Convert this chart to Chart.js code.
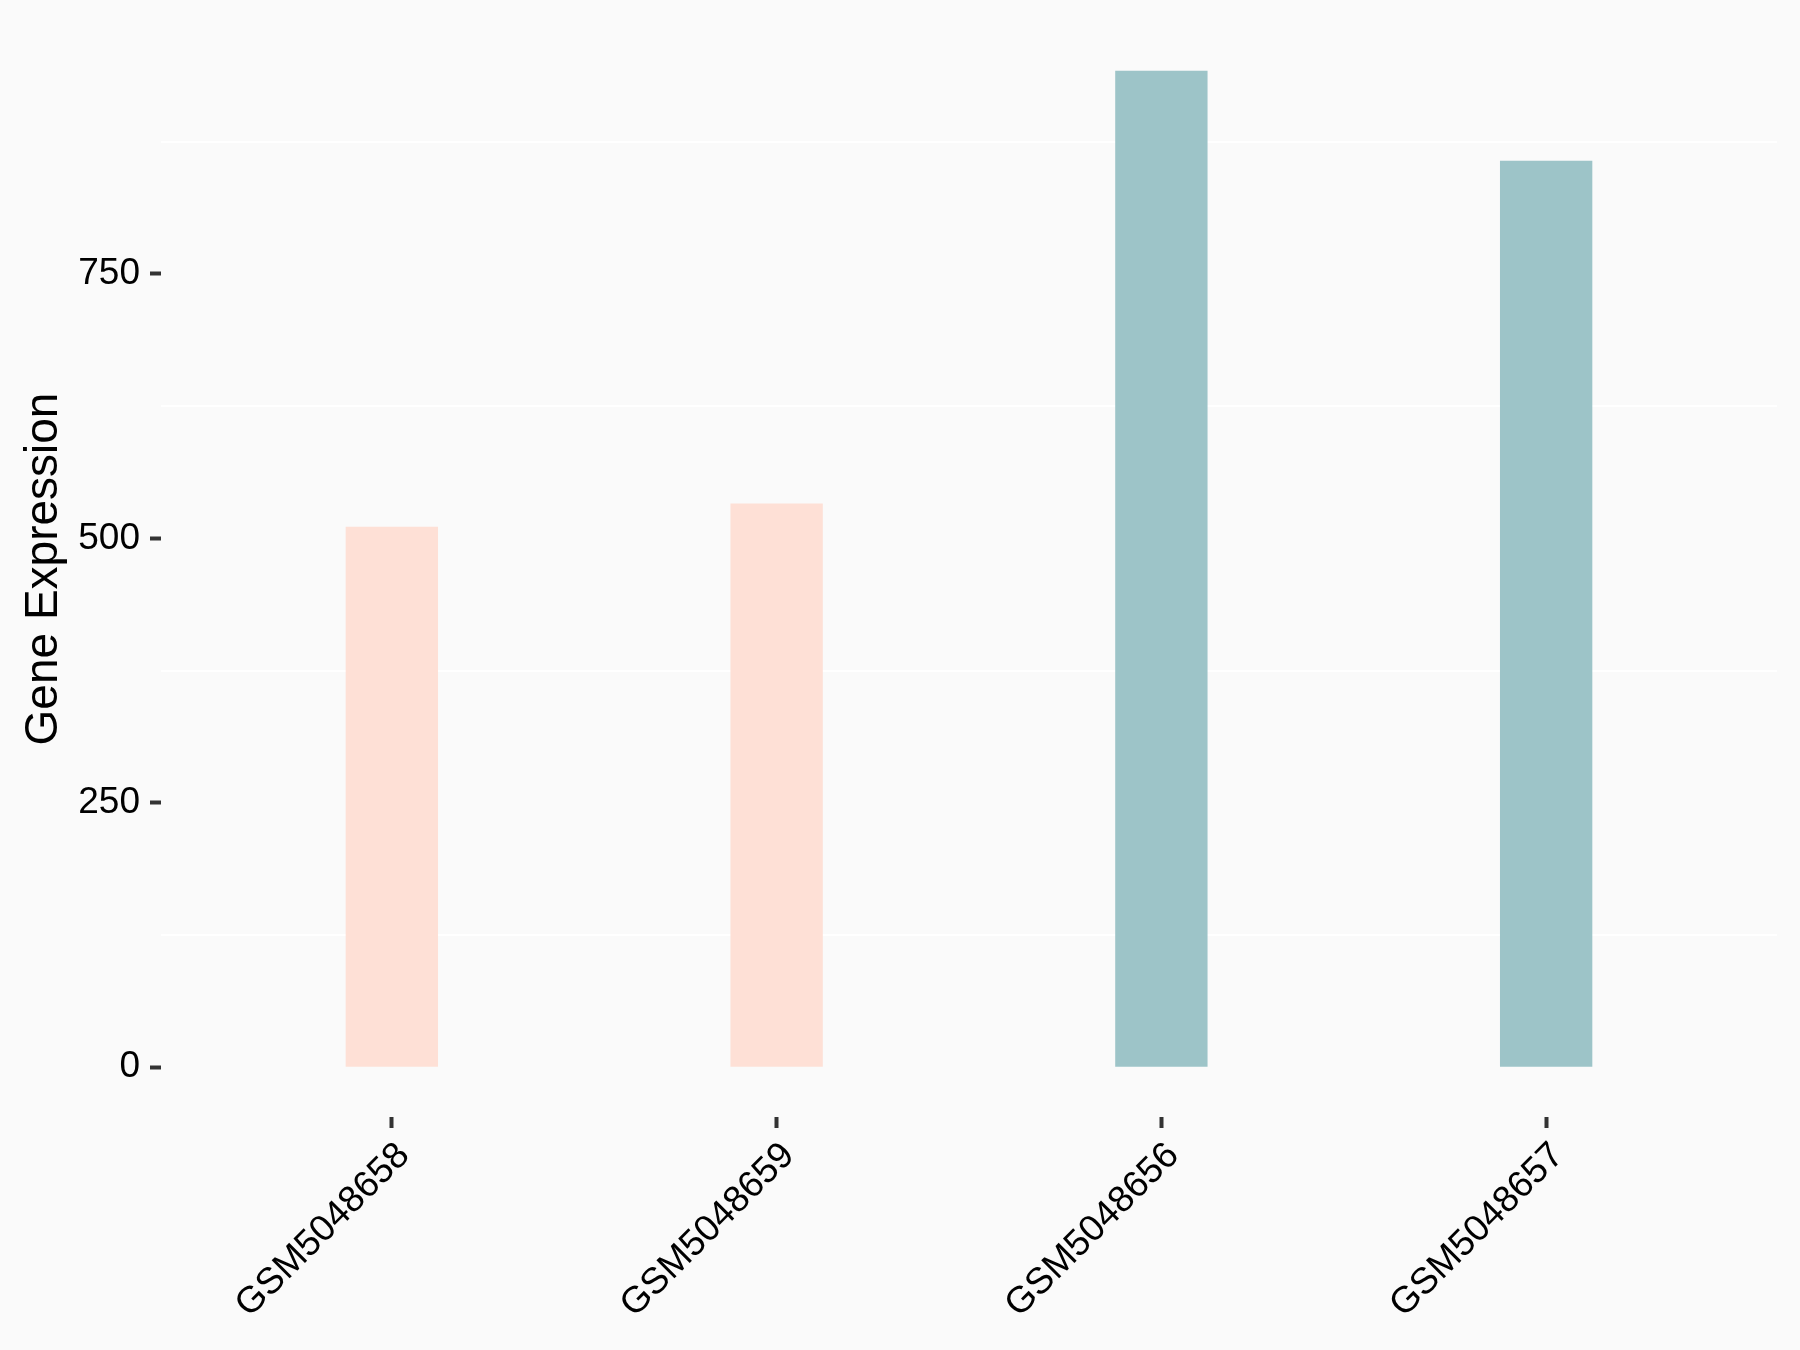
<!DOCTYPE html>
<html>
<head>
<meta charset="utf-8">
<script src="https://cdn.jsdelivr.net/npm/chart.js@4/dist/chart.umd.min.js"></script>
<style>
  html, body { margin: 0; padding: 0; background: #FAFAFA; }
  #wrap { width: 1800px; height: 1350px; }
</style>
</head>
<body>
<div id="wrap"><canvas id="c" width="1800" height="1350"></canvas></div>
<script>
const categories = ["GSM5048658", "GSM5048659", "GSM5048656", "GSM5048657"];
const expression = [511, 533, 942, 857];
const groups = ["B", "B", "A", "A"];
const yTicks = [0, 250, 500, 750];
const yMinorGrid = [125, 375, 625, 875];

const groupColors = { A: "#9DC4C8", B: "#FEE0D6" };
const yMin = -47, yMax = 989;

const FONT = "'Liberation Sans', Arial, sans-serif";

new Chart(document.getElementById('c'), {
  type: 'bar',
  data: {
    datasets: [{
      data: expression.map((v, i) => ({ x: i + 1, y: v })),
      backgroundColor: groups.map(g => groupColors[g]),
      borderWidth: 0,
      categoryPercentage: 1,
      barPercentage: 0.24
    }]
  },
  options: {
    responsive: false,
    animation: false,
    devicePixelRatio: 1,
    layout: { padding: { left: 0, right: 23, top: 21, bottom: 0 } },
    plugins: { legend: { display: false }, tooltip: { enabled: false } },
    scales: {
      x: {
        type: 'linear',
        min: 0.4, max: 4.6,
        offset: false,
        afterBuildTicks: s => { s.ticks = categories.map((c, i) => ({ value: i + 1 })); },
        afterFit: s => { s.height = 233; s.paddingLeft = 0; s.paddingRight = 0; },
        ticks: {
          callback: (v) => categories[Math.round(v) - 1] || '',
          maxRotation: 45, minRotation: 45,
          autoSkip: false,
          color: '#000',
          font: { family: FONT, size: 37 },
          padding: 6,
          labelOffset: 12
        },
        grid: { offset: false, drawOnChartArea: false, drawTicks: true, tickLength: 11, tickColor: '#333', tickWidth: 4, color: 'rgba(0,0,0,0)' },
        border: { display: false }
      },
      y: {
        type: 'linear',
        position: 'left',
        min: yMin, max: yMax,
        afterBuildTicks: s => { s.ticks = yTicks.map(v => ({ value: v })); },
        afterFit: s => { s.width = 161; s.paddingTop = 0; s.paddingBottom = 0; },
        ticks: {
          color: '#000',
          font: { family: FONT, size: 37 },
          padding: 10
        },
        grid: { drawOnChartArea: false, drawTicks: true, tickLength: 11, tickColor: '#333', tickWidth: 4, color: 'rgba(0,0,0,0)' },
        border: { display: false },
        title: {
          display: true,
          text: 'Gene Expression',
          color: '#000',
          font: { family: FONT, size: 46 },
          padding: { top: 17, bottom: 0 }
        }
      },
      y2: {
        type: 'linear',
        position: 'right',
        min: yMin, max: yMax,
        afterBuildTicks: s => { s.ticks = yMinorGrid.map(v => ({ value: v })); },
        afterFit: s => { s.width = 0; s.paddingTop = 0; s.paddingBottom = 0; },
        ticks: { display: false },
        grid: { drawTicks: false, color: '#FFFFFF', lineWidth: 2 },
        border: { display: false }
      }
    }
  }
});
</script>
</body>
</html>
